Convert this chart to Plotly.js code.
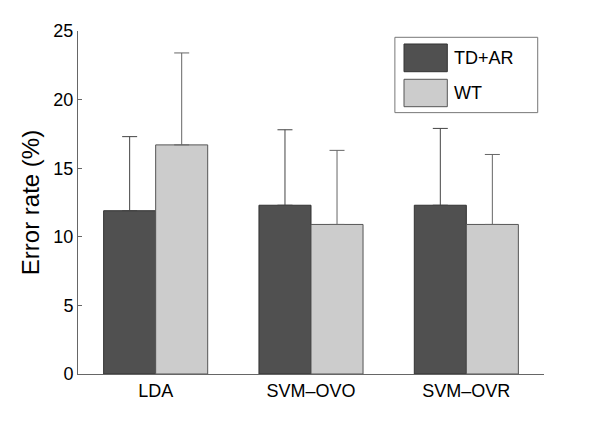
<!DOCTYPE html>
<html>
<head>
<meta charset="utf-8">
<script src="https://cdn.plot.ly/plotly-3.0.1.min.js"></script>
<style>html,body{margin:0;padding:0;background:#fff;}#chart{width:600px;height:421px;}</style>
</head>
<body>
<div id="chart"></div>
<script>
// Data
const categories = ["LDA", "SVM\u2013OVO", "SVM\u2013OVR"];
const seriesNames = ["TD+AR", "WT"];
const tdarValues = [11.9, 12.3, 12.3];
const tdarErrors = [5.4, 5.5, 5.6];
const wtValues = [16.7, 10.9, 10.9];
const wtErrors = [6.7, 5.4, 5.1];
const yTicks = [0, 5, 10, 15, 20, 25];

const darkColor = "#505050";
const lightColor = "#cccccc";
const font = "Liberation Sans, Arial, Helvetica, sans-serif";

const traces = [
  {
    type: "bar", name: seriesNames[0], x: categories, y: tdarValues,
    marker: {color: darkColor, line: {color: "#333333", width: 1}},
    error_y: {type: "data", symmetric: false, array: tdarErrors, arrayminus: [0,0,0],
              color: "#444444", thickness: 1, width: 7.5},
    showlegend: false
  },
  {
    type: "bar", name: seriesNames[1], x: categories, y: wtValues,
    marker: {color: lightColor, line: {color: "#555555", width: 1}},
    error_y: {type: "data", symmetric: false, array: wtErrors, arrayminus: [0,0,0],
              color: "#666666", thickness: 1, width: 7.5},
    showlegend: false
  }
];

const layout = {
  width: 600, height: 421,
  margin: {l: 78, r: 56, t: 31, b: 47},
  paper_bgcolor: "#ffffff", plot_bgcolor: "#ffffff",
  font: {family: font, color: "#000000", size: 18},
  barmode: "group",
  bargap: 0.33, bargroupgap: 0,
  xaxis: {
    range: [-0.5, 2.5], showgrid: false, zeroline: false,
    showline: true, linecolor: "#666666", linewidth: 1,
    ticks: "", tickfont: {size: 18, family: font}
  },
  yaxis: {
    range: [0, 25], tickvals: yTicks, ticktext: yTicks.map(String),
    showgrid: false, zeroline: false,
    showline: true, linecolor: "#666666", linewidth: 1,
    ticks: "inside", ticklen: 4, tickcolor: "#666666",
    tickfont: {size: 18, family: font},
    title: {text: "Error rate (%)", font: {size: 24, family: font}, standoff: 6}
  },
  shapes: [
    {type: "rect", xref: "paper", yref: "paper", x0: 0.680, x1: 0.9865, y0: 0.762, y1: 0.9816,
     line: {color: "#777777", width: 1}, fillcolor: "#ffffff"},
    {type: "rect", xref: "paper", yref: "paper", x0: 0.6996, x1: 0.7925, y0: 0.8813, y1: 0.9621,
     line: {color: "#333333", width: 1}, fillcolor: darkColor},
    {type: "rect", xref: "paper", yref: "paper", x0: 0.6996, x1: 0.7925, y0: 0.7793, y1: 0.8592,
     line: {color: "#555555", width: 1}, fillcolor: lightColor}
  ],
  annotations: [
    {xref: "paper", yref: "paper", x: 0.8019, y: 0.921, xanchor: "left", yanchor: "middle",
     text: seriesNames[0], showarrow: false, font: {size: 18, family: font}},
    {xref: "paper", yref: "paper", x: 0.8019, y: 0.819, xanchor: "left", yanchor: "middle",
     text: seriesNames[1], showarrow: false, font: {size: 18, family: font}}
  ]
};

Plotly.newPlot("chart", traces, layout, {displayModeBar: false, staticPlot: true});
</script>
</body>
</html>
